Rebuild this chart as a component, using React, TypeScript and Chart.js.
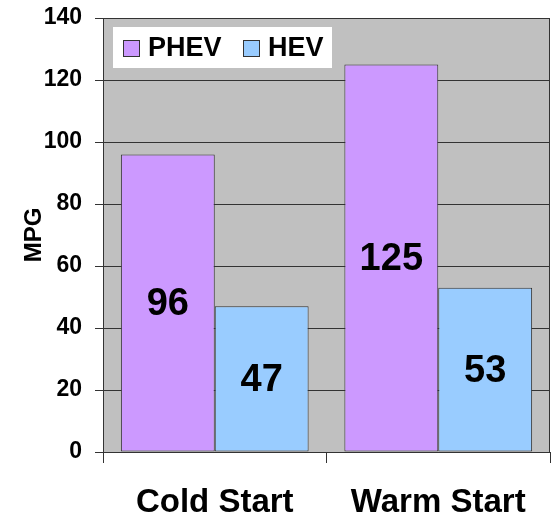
import React, { useEffect, useRef } from "react";
import { Chart, registerables } from "chart.js";

Chart.register(...registerables);

const categories = ["Cold Start", "Warm Start"];
const phevValues = [96, 125];
const hevValues = [47, 53];
const seriesNames = ["PHEV", "HEV"];
const yTicks = [0, 20, 40, 60, 80, 100, 120, 140];

const FONT = "'Liberation Sans', Arial, sans-serif";
const PHEV_COLOR = "#CC99FF";
const HEV_COLOR = "#99CCFF";
const LINE = "#333333";

export default function App() {
  const ref = useRef<HTMLCanvasElement | null>(null);

  useEffect(() => {
    document.body.style.margin = "0";
    const canvas = ref.current;
    if (!canvas) return;

    const bgPlugin = {
      id: "plotBg",
      beforeDraw(chart: any) {
        const { ctx, chartArea: a } = chart;
        ctx.save();
        ctx.fillStyle = "#C0C0C0";
        ctx.fillRect(a.left, a.top, a.right - a.left, a.bottom - a.top);
        ctx.restore();
      },
      beforeDatasetsDraw(chart: any) {
        const { ctx, chartArea: a } = chart;
        ctx.save();
        ctx.strokeStyle = LINE;
        ctx.lineWidth = 1;
        ctx.strokeRect(a.left + 0.5, a.top + 0.5, a.right - a.left - 1, a.bottom - a.top);
        ctx.restore();
      },
      afterDatasetsDraw(chart: any) {
        const { ctx } = chart;
        ctx.save();
        // value labels
        ctx.font = `bold 38px ${FONT}`;
        ctx.fillStyle = "#000";
        ctx.textAlign = "center";
        ctx.textBaseline = "middle";
        chart.data.datasets.forEach((ds: any, di: number) => {
          const meta = chart.getDatasetMeta(di);
          meta.data.forEach((bar: any, i: number) => {
            const y = (bar.y + bar.base) / 2 + 2;
            ctx.fillText(String(ds.data[i]), bar.x, y);
          });
        });
        // legend box
        const a = chart.chartArea;
        const bx = a.left + 10;
        const by = a.top + 9;
        const bw = 219;
        const bh = 41;
        ctx.fillStyle = "#FFFFFF";
        ctx.fillRect(bx, by, bw, bh);
        ctx.font = `bold 27px ${FONT}`;
        ctx.textAlign = "left";
        ctx.textBaseline = "middle";
        const colors = [PHEV_COLOR, HEV_COLOR];
        const xs = [bx + 10, bx + 130];
        seriesNames.forEach((name, i) => {
          const sx = xs[i];
          const sy = by + 13;
          ctx.fillStyle = colors[i];
          ctx.fillRect(sx, sy, 17, 17);
          ctx.strokeStyle = LINE;
          ctx.lineWidth = 1;
          ctx.strokeRect(sx + 0.5, sy + 0.5, 16, 16);
          ctx.fillStyle = "#000";
          ctx.fillText(name, sx + 25, sy + 9);
        });
        ctx.restore();
      },
    };

    const chart = new Chart(canvas, {
      type: "bar",
      data: {
        labels: categories,
        datasets: [
          {
            label: seriesNames[0],
            data: phevValues,
            backgroundColor: PHEV_COLOR,
            borderColor: LINE,
            borderWidth: 1,
            borderSkipped: false,
          },
          {
            label: seriesNames[1],
            data: hevValues,
            backgroundColor: HEV_COLOR,
            borderColor: LINE,
            borderWidth: 1,
            borderSkipped: false,
          },
        ],
      },
      options: {
        responsive: false,
        animation: false,
        devicePixelRatio: 1,
        layout: { padding: { top: 18, right: 2, left: 0, bottom: 0 } },
        datasets: { bar: { categoryPercentage: 0.84, barPercentage: 1 } },
        plugins: {
          legend: { display: false },
          tooltip: { enabled: false },
        },
        scales: {
          x: {
            grid: {
              display: true,
              drawOnChartArea: false,
              drawTicks: true,
              tickLength: 11,
              color: LINE,
              offset: true,
            },
            border: { display: true, color: LINE },
            ticks: {
              color: "#000",
              font: { family: FONT, size: 33, weight: "bold" },
              padding: 20,
              maxRotation: 0,
            },
            afterFit(scale: any) {
              scale.height = 62;
              scale.paddingLeft = 0;
              scale.paddingRight = 0;
            },
          },
          y: {
            min: 0,
            max: 140,
            afterBuildTicks(scale: any) {
              scale.ticks = yTicks.map((v) => ({ value: v }));
            },
            grid: {
              color: LINE,
              tickLength: 8,
              drawTicks: true,
            },
            border: { display: true, color: LINE },
            ticks: {
              color: "#000",
              font: { family: FONT, size: 23, weight: "bold" },
              padding: 13,
            },
            title: {
              display: true,
              text: "MPG",
              color: "#000",
              font: { family: FONT, size: 24, weight: "bold", lineHeight: 1 },
              padding: { top: 22, bottom: 0 },
            },
            afterFit(scale: any) {
              scale.width = 103;
              scale.paddingTop = 0;
              scale.paddingBottom = 0;
            },
          },
        },
      },
      plugins: [bgPlugin],
    });

    return () => chart.destroy();
  }, []);

  return (
    <div style={{ position: "absolute", left: 0, top: 0, width: 552, height: 514 }}>
      <canvas ref={ref} width={552} height={514} style={{ width: 552, height: 514 }} />
    </div>
  );
}
